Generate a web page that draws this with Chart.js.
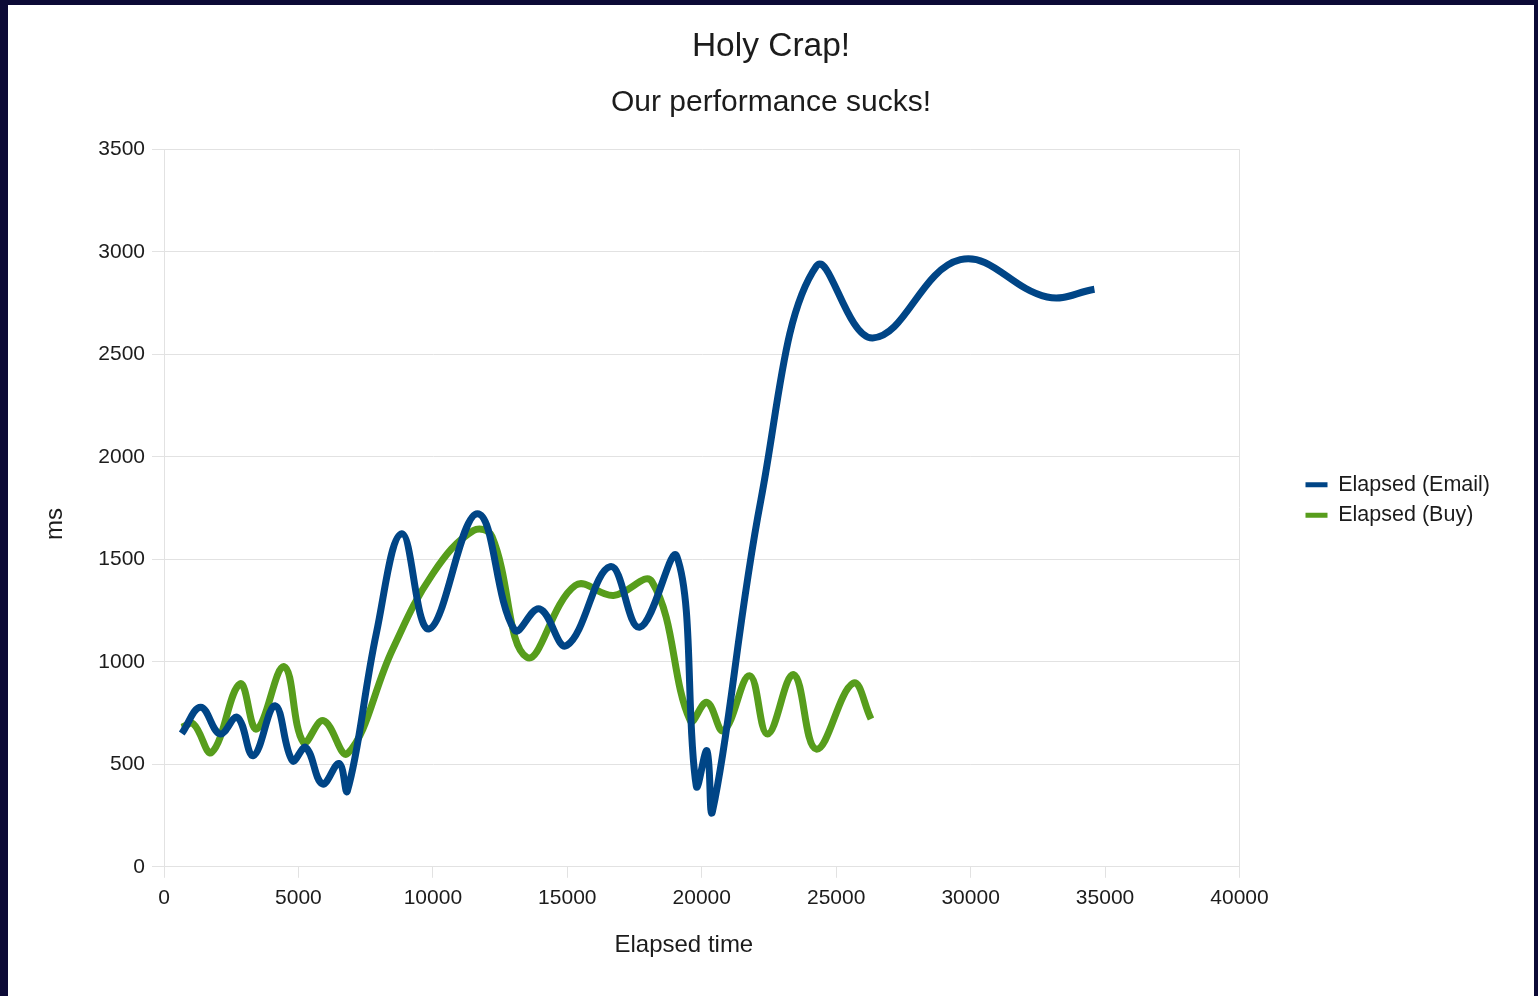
<!DOCTYPE html>
<html>
<head>
<meta charset="utf-8">
<title>Holy Crap!</title>
<script src="https://cdn.jsdelivr.net/npm/chart.js@4.4.1/dist/chart.umd.min.js"></script>
<style>
    html, body { margin: 0; height: 100%; background: #0c0a36; overflow: hidden; }
    #frame { position: absolute; left: 8px; top: 5px; right: 4px; bottom: 0; background: #fff; }
</style>
</head>
<body>
<div id="frame"><canvas id="perf"></canvas></div>
<script>
// elapsed time of each sample and the response time it got
const emailTime = [660, 1365, 2084, 2728, 3324, 4130, 4775, 5272, 5891, 6512, 6822, 7900, 8844, 9860, 11659, 13035, 13966, 14977, 16595, 17686, 19077, 19795, 20193, 20403, 22200, 24260, 26356, 29619, 32844, 34605];
const emailMs = [650, 778, 648, 729, 542, 786, 517, 582, 404, 504, 371, 1140, 1624, 1160, 1722, 1155, 1258, 1079, 1464, 1168, 1513, 395, 566, 273, 1790, 2929, 2579, 2961, 2779, 2817];

const buyTime = [658, 1091, 1774, 2828, 3448, 4465, 5185, 5928, 6834, 8500, 10000, 11510, 12200, 13494, 15293, 16719, 18146, 19572, 20193, 20812, 21779, 22449, 23416, 24260, 25625, 26295];
const buyMs = [680, 697, 558, 892, 672, 976, 607, 713, 553, 1060, 1430, 1640, 1610, 1022, 1372, 1323, 1391, 713, 802, 664, 932, 648, 937, 574, 895, 721];

const seriesNames = ['Elapsed (Email)', 'Elapsed (Buy)'];
const xTitle = 'Elapsed time';
const yTitle = 'ms';

const ink = '#1c1c1c';
const rule = '#e2e2e2';
const family = '"Liberation Sans", Arial, sans-serif';

function points(xs, ys)
{
    return xs.map((x, i) => ({ x: x, y: ys[i] }));
}

// axis titles sit in the middle of the whole axes block, tick labels included
const axisTitles = {
    id: 'axisTitles',
    afterDraw(chart)
    {
        const { ctx, chartArea, scales: { x, y } } = chart;
        ctx.save();
        ctx.font = '21px ' + family;
        const lastHalf = ctx.measureText('40000').width / 2;
        ctx.font = '24px ' + family;
        ctx.fillStyle = ink;
        ctx.textAlign = 'center';
        ctx.textBaseline = 'middle';
        ctx.fillText(xTitle, (y.left + x.right + lastHalf) / 2, x.bottom + 26);
        ctx.translate(y.left - 44, (chartArea.top + x.bottom) / 2 - 10);
        ctx.rotate(-Math.PI / 2);
        ctx.fillText(yTitle, 0, 0);
        ctx.restore();
    }
};

// push the legend away from the plot frame and centre it a bit above the middle
const legendGap = {
    id: 'legendGap',
    afterLayout(chart)
    {
        const lg = chart.legend;
        const area = chart.chartArea;
        const dx = area.right + 57 - lg.left;
        const dy = (area.top + area.bottom) / 2 - 8 - (lg.top + lg.bottom) / 2;
        lg.left += dx;
        lg.right += dx;
        lg.top += dy;
        lg.bottom += dy;
    }
};

const lastTick = 40000;
const plain = { useGrouping: false };

const config = {
    type: 'line',
    data: {
        datasets: [{
            label: seriesNames[0],
            data: points(emailTime, emailMs),
            borderColor: '#004586',
            backgroundColor: '#004586',
            borderWidth: 7,
            pointRadius: 0,
            tension: 0.4
        }, {
            label: seriesNames[1],
            data: points(buyTime, buyMs),
            borderColor: '#579d1c',
            backgroundColor: '#579d1c',
            borderWidth: 7,
            pointRadius: 0,
            tension: 0.4
        }]
    },
    options: {
        responsive: true,
        maintainAspectRatio: false,
        animation: false,
        layout: { padding: { left: 91, right: 91, bottom: 77 } },
        scales: {
            x: {
                type: 'linear',
                min: 0,
                max: lastTick,
                ticks: { stepSize: 5000, padding: 8, color: ink, font: { size: 21 }, format: plain },
                grid: {
                    color: (c) => c.tick && c.tick.value === lastTick ? rule : 'transparent',
                    tickColor: rule,
                    tickLength: 11
                },
                border: { color: rule }
            },
            y: {
                min: 0,
                max: 3500,
                ticks: { stepSize: 500, padding: 7, color: ink, font: { size: 21 }, format: plain },
                grid: { color: rule, tickLength: 12 },
                border: { color: rule },
                afterFit: (scale) => { scale.width = 65; }
            }
        },
        plugins: {
            title: {
                display: true,
                text: 'Holy Crap!',
                color: ink,
                font: { size: 33.5, weight: 'normal' },
                padding: { top: 22, bottom: 8 }
            },
            subtitle: {
                display: true,
                text: 'Our performance sucks!',
                color: ink,
                font: { size: 30 },
                padding: { top: 10, bottom: 28 }
            },
            legend: {
                position: 'right',
                labels: {
                    color: ink,
                    font: { size: 21.5 },
                    boxWidth: 22,
                    boxHeight: 5,
                    padding: 9,
                    // flat colour bars, no outline round them
                    generateLabels: (chart) => Chart.defaults.plugins.legend.labels.generateLabels(chart)
                        .map((item) => Object.assign(item, { lineWidth: 0 }))
                }
            },
            tooltip: { enabled: false }
        }
    },
    plugins: [axisTitles, legendGap]
};

Chart.defaults.font.family = family;

let canvasElement = document.getElementById('perf');
var perfChart = new Chart(canvasElement, config);
</script>
</body>
</html>
